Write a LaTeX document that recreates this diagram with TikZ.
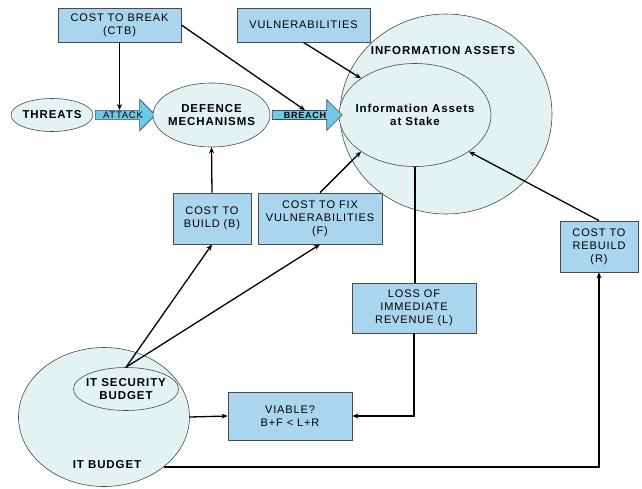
\documentclass[tikz,border=0pt]{standalone}
\usepackage{fontspec}
\setmainfont{Liberation Sans}
\newfontfamily\boxfont[LetterSpace=8]{Liberation Sans}
\usetikzlibrary{positioning,arrows.meta,shapes.geometric,shapes.arrows}
\definecolor{boxblue}{HTML}{AAD5EE}
\definecolor{arrowblue}{HTML}{6CC9E8}
\definecolor{paleblob}{HTML}{E3F2F3}
\definecolor{edgegrey}{HTML}{4A4A4A}

\begin{document}
\begin{tikzpicture}[
    x=1pt,y=-1pt,
    >={Stealth[length=6pt,width=5pt]},
    box/.style={
        draw=edgegrey,
        line width=0.8pt,
        fill=boxblue,
        align=center,
        inner sep=1pt,
        font=\boxfont\fontsize{11}{13}\selectfont,
    },
    blob/.style={
        ellipse,
        draw=edgegrey,
        line width=0.6pt,
        fill=paleblob,
        inner sep=0pt,
        label={[align=center,font=\boxfont\bfseries\fontsize{11.5}{13.5}\selectfont]center:#1},
    },
    blob/.default={},
    blobtext/.style={font=\boxfont\bfseries\fontsize{11.5}{13.5}\selectfont},
    blockarrow/.style={
        single arrow,
        draw=edgegrey,
        line width=0.6pt,
        fill=arrowblue,
        single arrow head extend=11pt,
        inner ysep=1pt,
        inner xsep=2pt,
        font=\boxfont\fontsize{9.5}{10}\selectfont,
    },
    link/.style={->,line width=1.3pt,color=black},
]
\useasboundingbox (0,0) rectangle (642,488);

% Top row: cost boxes
\node[box,minimum width=123pt,minimum height=34pt] (ctb) at (119.5,25) {COST TO BREAK\\(CTB)};
\node[box,minimum width=133pt,minimum height=34pt] (vuln) at (303.5,25) {VULNERABILITIES};

% Information assets
\node[blob,minimum width=212pt,minimum height=200pt] (assets) at (446,114) {};
\node[blobtext] (assetslabel) at (443,51) {INFORMATION ASSETS};
\node[blob={Information Assets\\at Stake},minimum width=152pt,minimum height=103pt] (stake) at (415,115) {};

% Threat chain
\node[blob=THREATS,minimum width=82pt,minimum height=33pt] (threats) at (52,115) {};
\node[blockarrow,minimum height=60pt] (attack) at (123,115) {ATTACK};
\node[blob={DEFENCE\\MECHANISMS},minimum width=117pt,minimum height=64pt] (defence) at (211.5,115) {};
\node[blockarrow,minimum height=70pt,font=\boxfont\bfseries\fontsize{9}{10}\selectfont] (breach) at (305,115) {BREACH};

% Middle boxes
\node[box,minimum width=78pt,minimum height=51pt] (build) at (212,218.5) {COST TO\\BUILD (B)};
\node[box,minimum width=124pt,minimum height=51pt] (fix) at (320,218.5) {COST TO FIX\\VULNERABILITIES\\(F)};
\node[box,minimum width=124pt,minimum height=50pt] (loss) at (414,308) {LOSS OF\\IMMEDIATE\\REVENUE (L)};
\node[box,minimum width=78pt,minimum height=51pt] (rebuild) at (599,246.5) {COST TO\\REBUILD\\(R)};

% Budget
\node[blob,minimum width=171pt,minimum height=139pt] (itbudget) at (104,417) {};
\node[blobtext] (itbudgetlabel) at (107,465) {IT BUDGET};
\node[blob={IT SECURITY\\BUDGET},minimum width=105pt,minimum height=43pt] (itsec) at (126,389) {};
\node[box,minimum width=124pt,minimum height=48pt] (viable) at (290,416) {VIABLE?\\B+F \textless{} L+R};

% Connectors
\draw[link] (ctb.south) -- (ctb.south |- attack.north);
\draw[link] (ctb.east) -- (breach.north);
\draw[link] (vuln.south) -- (stake.north west);
\draw[link] (build.north) -- (defence.south);
\draw[link] (fix.north) -- (stake.south west);
\draw[line width=1.3pt] (stake.south) -- (stake.south |- loss.north);
\draw[link] (loss.south) |- (viable.east);
\draw[link] (rebuild.north) -- (stake.south east);
\draw[link] (itsec.north) -- (build.south);
\draw[link] (itsec.north) -- (fix.south);
\draw[link] (itbudget.east) -- (viable.west);
\draw[link] (itbudget.-40) -| (rebuild.south);

\end{tikzpicture}
\end{document}
